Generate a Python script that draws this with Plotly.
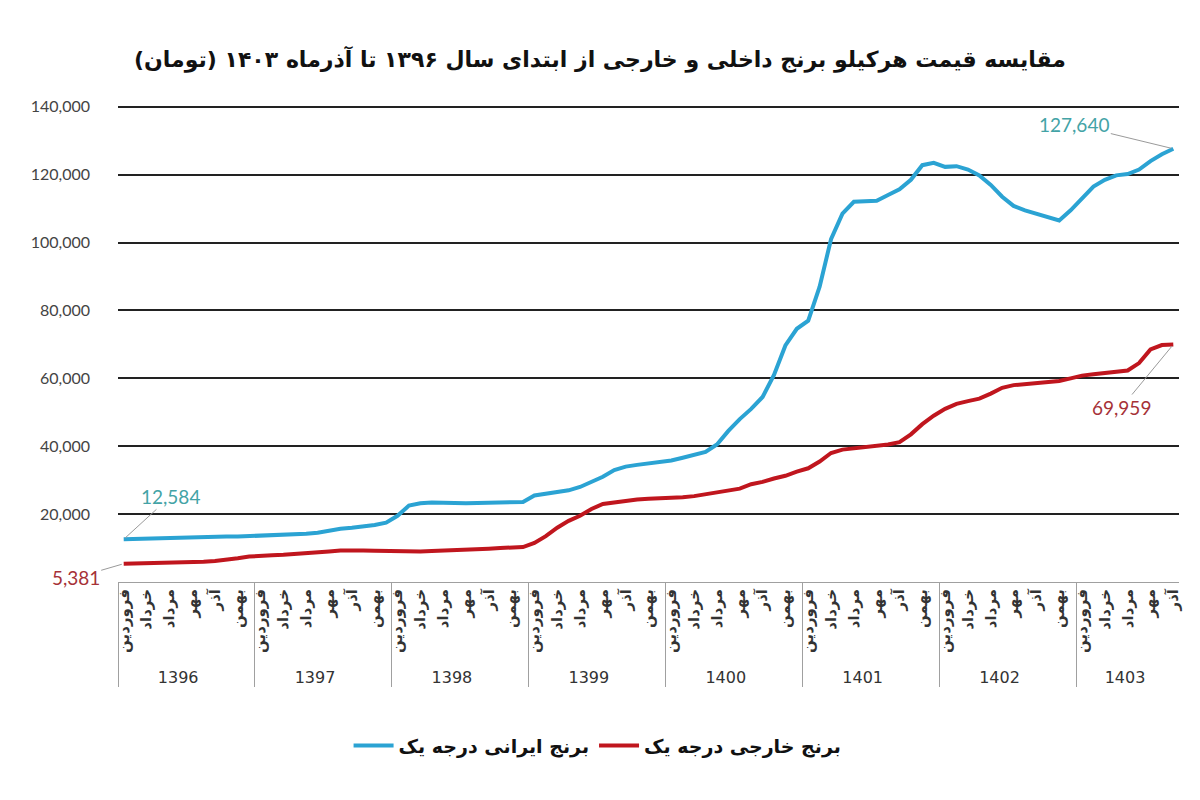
import plotly.graph_objects as go

# سال‌ها و ماه‌های محور افقی
years = ["1396", "1397", "1398", "1399", "1400", "1401", "1402", "1403"]
months_in_year = [12, 12, 12, 12, 12, 12, 12, 9]
month_labels = ["فروردین", "", "خرداد", "", "مرداد", "", "مهر", "", "آذر", "", "بهمن", ""]

# برنج ایرانی درجه یک (تومان)
iranian_rice = [
    12584, 12700, 12800, 12900, 13000, 13100, 13200, 13300, 13300, 13400, 13400, 13500,
    13600, 13700, 13800, 14000, 14200, 14500, 15200, 15700, 16000, 16300, 16800, 17500,
    19500, 22500, 23200, 23400, 23300, 23200, 23200, 23300, 23400, 23400, 23500, 23600,
    25500, 26000, 26500, 27000, 28000, 29500, 31000, 33000, 34000, 34500, 35000, 35200,
    35800, 36600, 37300, 38300, 40500, 44500, 48000, 51000, 54500, 61000, 69700, 74600,
    77000, 87000, 101000, 108500, 112000, 112200, 112300, 114000, 115700, 118500, 122800, 123500,
    122300, 122500, 121500, 119800, 117000, 113500, 110800, 109500, 108400, 107500, 106500, 109500,
    113000, 116500, 118500, 119800, 120200, 121500, 124000, 126000, 127640,
]

# برنج خارجی درجه یک (تومان)
foreign_rice = [
    5381, 5450, 5500, 5550, 5600, 5700, 5800, 6000, 6200, 6500, 7000, 7500,
    7800, 7900, 8000, 8200, 8400, 8600, 9000, 9300, 9400, 9300, 9200, 9100,
    9000, 9000, 9000, 9100, 9200, 9300, 9500, 9700, 9800, 10000, 10100, 10300,
    11500, 13500, 16000, 18000, 19500, 21500, 23000, 23500, 24000, 24300, 24500, 24600,
    24800, 25000, 25300, 25800, 26500, 27000, 27500, 28800, 29500, 30500, 31300, 32500,
    33500, 35500, 38000, 39000, 39400, 39700, 40000, 40500, 41200, 43500, 46500, 49000,
    51000, 52500, 53300, 54000, 55500, 57200, 58000, 58300, 58600, 58800, 59200, 60000,
    60800, 61200, 61500, 61800, 62300, 64500, 68500, 69800, 69959,
]

y_ticks = [20000, 40000, 60000, 80000, 100000, 120000, 140000]

BLUE = "#2ba3d3"
RED = "#c0161e"
BLUE_TXT = "#43a3a6"
RED_TXT = "#a63238"
FA_FONT = "DejaVu Sans"
NUM_FONT = "Lato"

# محور دوسطحی: سال / ماه (ماه‌های بدون برچسب با فاصله یکتا می‌شوند)
x_year, x_month = [], []
for y, n in zip(years, months_in_year):
    for j in range(n):
        x_year.append(f"<span style='font-size:16px'>{y}</span>")
        m = month_labels[j]
        x_month.append(f"<b>{m}</b>" if m else " " * (j + 1))

fig = go.Figure()
fig.add_trace(go.Scatter(
    x=[x_year, x_month], y=iranian_rice, mode="lines",
    name="برنج ایرانی درجه یک",
    line=dict(color=BLUE, width=4),
))
fig.add_trace(go.Scatter(
    x=[x_year, x_month], y=foreign_rice, mode="lines",
    name="برنج خارجی درجه یک",
    line=dict(color=RED, width=4),
))

first = [x_year[0], x_month[0]]
last = [x_year[-1], x_month[-1]]


def label(xv, yv, text, color, ax, ay):
    fig.add_annotation(
        x=xv, y=yv, text=text, showarrow=True, arrowhead=0, arrowwidth=1,
        arrowcolor="#9a9a9a", ax=ax, ay=ay, standoff=2,
        font=dict(family=NUM_FONT, size=19, color=color),
    )


label(first, iranian_rice[0], f"{iranian_rice[0]:,}", BLUE_TXT, 47, -43)
label(first, foreign_rice[0], f"{foreign_rice[0]:,}", RED_TXT, -48, 14)
label(last, iranian_rice[-1], f"{iranian_rice[-1]:,}", BLUE_TXT, -99, -24)
label(last, foreign_rice[-1], f"{foreign_rice[-1]:,}", RED_TXT, -52, 63)

# صفحه خروجی ۸ پیکسل حاشیه دارد، پس اندازه و حاشیه‌ها جبران شده‌اند
fig.update_layout(
    width=1184, height=784,
    paper_bgcolor="white", plot_bgcolor="white",
    margin=dict(l=110, r=13, t=92, b=210),
    title=dict(
        text="<b>مقایسه قیمت هرکیلو برنج داخلی و خارجی از ابتدای سال ۱۳۹۶ تا آذرماه ۱۴۰۳ (تومان)</b>",
        x=0.5, xanchor="center", y=0.935, yanchor="middle",
        font=dict(family=FA_FONT, size=22, color="#111"),
    ),
    showlegend=True,
    legend=dict(
        orientation="h", x=0.452, xanchor="center", y=-0.3, yanchor="top",
        font=dict(family=FA_FONT, size=19, color="#111", weight="bold"),
        itemwidth=40, tracegroupgap=0,
    ),
)
fig.update_xaxes(
    type="multicategory", automargin=False, range=[-0.5, len(x_year) - 0.5],
    showgrid=False, showline=True, linecolor="#a0a0a0", linewidth=1,
    ticks="", tickangle=-90,
    tickfont=dict(family=FA_FONT, size=15, color="#333"),
    showdividers=True, dividercolor="#a0a0a0", dividerwidth=1,
)
fig.update_yaxes(
    range=[0, 142000], tickvals=y_ticks, tickformat=",", automargin=False,
    showgrid=True, gridcolor="#222", gridwidth=1.5,
    zeroline=False, showline=False, ticks="", ticklabelstandoff=27,
    tickfont=dict(family=NUM_FONT, size=16, color="#444"),
)

fig.write_html("out.html")
